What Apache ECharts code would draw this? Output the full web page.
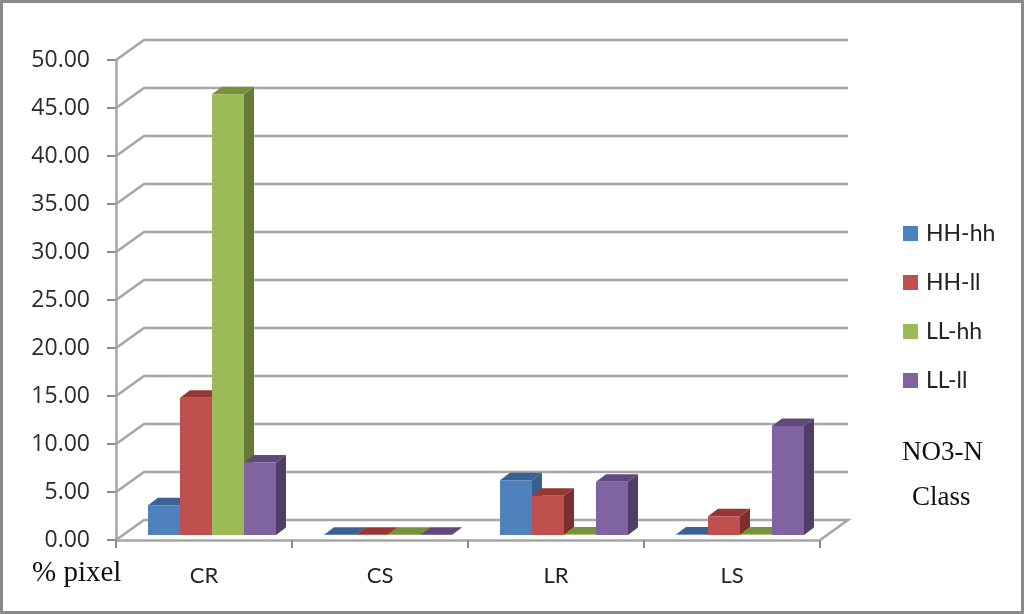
<!DOCTYPE html>
<html><head><meta charset="utf-8">
<style>html,body{margin:0;padding:0;background:#fff}#c{width:1024px;height:614px}</style>
<script src="https://cdn.jsdelivr.net/npm/echarts@6/dist/echarts.min.js"></script>
</head><body><div id="c"></div>
<script>
const categories = ['CR','CS','LR','LS'];
const seriesNames = ['HH-hh','HH-ll','LL-hh','LL-ll'];
const hhHh = [3.1, 0.03, 5.7, 0.05];
const hhLl = [14.3, 0.03, 4.1, 1.95];
const llHh = [45.9, 0.03, 0.05, 0.05];
const llLl = [7.55, 0.03, 5.55, 11.35];
const yTicks = [0,5,10,15,20,25,30,35,40,45,50];
const faceColors = ['#4f81bd','#c0504d','#9bbb59','#8064a2'];
const topColors = ['#3a6394','#953735','#76923c','#604a7b'];
const sideColors = ['#37608f','#7d2f2c','#647a35','#503e68'];
const gridColor = '#a6a6a6';
const wallDx = 28, wallDy = 20, barDx = 10, barDy = 7.5, baseDx = 8, baseDy = 5;
const barShare = 32/176;

function wallItem(params, api){
  const cs = params.coordSys;
  const y = api.coord([0, api.value(1)])[1];
  const x0 = cs.x, x1 = cs.x + cs.width;
  const pts = [[x0,y],[x0+wallDx,y-wallDy],[x1+wallDx,y-wallDy]];
  if (api.value(1) === 0) pts.push([x1,y]);
  return {type:'polyline', shape:{points:pts}, style:{stroke:gridColor, lineWidth:2.5, fill:null}};
}
function barRenderer(idx){
  return function(params, api){
    const c = api.value(0), v = api.value(1);
    const band = api.size([1,0])[0];
    const w = band*barShare;
    const cx = api.coord([c,0])[0];
    const left = cx + baseDx - 2*w + idx*w;
    const right = left + w;
    const bottom = api.coord([c,0])[1] - baseDy;
    const top = api.coord([c,v])[1] - baseDy;
    return {type:'group', children:[
      {type:'polygon', shape:{points:[[right,bottom],[right+barDx,bottom-barDy],[right+barDx,top-barDy],[right,top]]}, style:{fill:sideColors[idx]}},
      {type:'polygon', shape:{points:[[left,top],[left+barDx,top-barDy],[right+barDx,top-barDy],[right,top]]}, style:{fill:topColors[idx]}},
      {type:'rect', shape:{x:left,y:top,width:w,height:bottom-top}, style:{fill:faceColors[idx]}}
    ]};
  };
}
const values = [hhHh, hhLl, llHh, llLl];
const barSeries = seriesNames.map((n,i)=>({
  name:n, type:'custom', renderItem:barRenderer(i), z:5,
  itemStyle:{color:faceColors[i]},
  encode:{x:0,y:1},
  data:values[i].map((v,k)=>[k,v])
}));
const serif = '"Liberation Serif","Times New Roman",serif';
const textStyle = (t,x,y,size)=>({type:'text', left:x, top:y, style:{text:t, font:size+'px '+serif, fill:'#111'}});

const chart = echarts.init(document.getElementById('c'));
chart.setOption({
  animation:false,
  backgroundColor:'#fff',
  grid:{left:116, right:204, top:60, bottom:74},
  xAxis:{type:'category', data:categories, boundaryGap:true,
    axisLine:{lineStyle:{color:gridColor,width:2.5}},
    axisTick:{show:true,alignWithLabel:false,length:8,lineStyle:{color:'#8c8c8c',width:2}},
    axisLabel:{margin:25,color:'#222',fontFamily:'Lato',fontSize:22}},
  yAxis:{type:'value', min:0, max:50, interval:5,
    axisLine:{show:true,lineStyle:{color:gridColor,width:2.5}},
    axisTick:{show:true,length:9,lineStyle:{color:'#8c8c8c',width:2}},
    splitLine:{show:false},
    axisLabel:{margin:26,color:'#2b2b2b',fontFamily:'Open Sans',fontSize:23,padding:[4,0,0,0],formatter:v=>v.toFixed(2)}},
  legend:{data:seriesNames.map(n=>({name:n,icon:'rect'})), orient:'vertical', left:903, top:222,
    itemWidth:15, itemHeight:15, itemGap:26, selectedMode:false,
    textStyle:{fontFamily:'Lato',fontSize:23,color:'#222',padding:[0,0,0,3]}, padding:0},
  series:[{type:'custom', name:'walls', renderItem:wallItem, z:1, encode:{x:0,y:1}, silent:true,
    data:yTicks.map(v=>[0,v])}].concat(barSeries),
  graphic:[
    {type:'rect', shape:{x:1.5,y:1.5,width:1021,height:611}, style:{fill:null,stroke:'#8a8a8a',lineWidth:3}, silent:true},
    textStyle('% pixel',32,559,29),
    textStyle('NO3-N',902,439,27),
    textStyle('Class',912,484,27)
  ]
});
</script></body></html>
